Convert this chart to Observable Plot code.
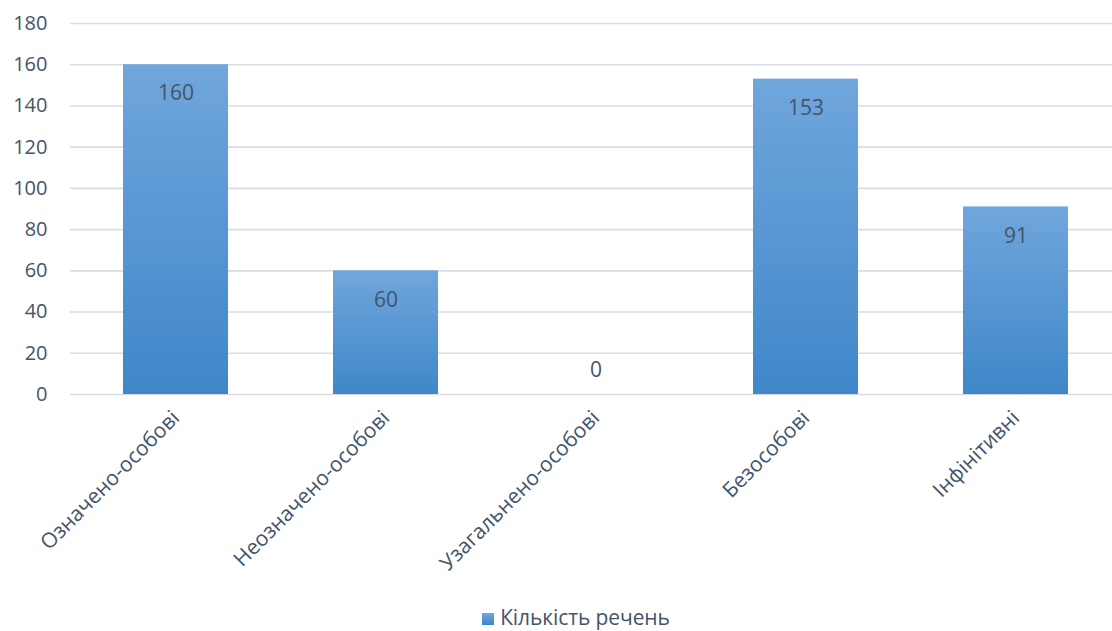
<!DOCTYPE html>
<html>
<head>
<meta charset="utf-8">
<script src="https://cdn.jsdelivr.net/npm/d3@7"></script>
<script src="https://cdn.jsdelivr.net/npm/@observablehq/plot@0.6"></script>
<style>
  html, body { margin: 0; padding: 0; background: #fff; }
  #chart { width: 1112px; height: 631px; position: relative; }
  #legend { position: absolute; left: 20px; top: 603px; width: 1112px; text-align: center;
    font-family: "Open Sans", sans-serif; font-size: 21px; line-height: 28px; color: #44546A; letter-spacing: -0.1px; }
  #legend .sw { display: inline-block; width: 12px; height: 12px; margin-right: 6px; vertical-align: 0px;
    background: linear-gradient(#6fa5db, #3f87c9); }
</style>
</head>
<body>
<div id="chart"></div>
<script>
const categories = ["Означено-особові", "Неозначено-особові", "Узагальнено-особові", "Безособові", "Інфінітивні"];
const values = [160, 60, 0, 153, 91];
const yTicks = [0, 20, 40, 60, 80, 100, 120, 140, 160, 180];
const seriesName = "Кількість речень";

const data = categories.map((c, i) => ({category: c, value: values[i]}));
const textColor = "#44546A";

const plot = Plot.plot({
  width: 1112,
  height: 595,
  marginTop: 23,
  marginBottom: 201,
  marginLeft: 70,
  marginRight: 0,
  style: {fontFamily: "'Open Sans', sans-serif", fontSize: "20px", color: textColor, background: "#fff"},
  x: {domain: categories, range: [70, 1120], paddingInner: 0.5, paddingOuter: 0.25, align: 0.5, label: null},
  y: {domain: [0, 180], ticks: yTicks, label: null},
  marks: [
    Plot.ruleY(yTicks, {stroke: "#d9dde3", strokeWidth: 1.6}),
    Plot.barY(data, {x: "category", y: "value", fill: "url(#barGrad)"}),
    Plot.text(data.filter(d => d.value > 0), {x: "category", y: "value", text: d => String(d.value), dy: 29, fill: textColor, fontSize: 21}),
    Plot.text(data.filter(d => d.value === 0), {x: "category", y: "value", text: d => String(d.value), dy: -24, fill: textColor, fontSize: 21}),
    Plot.axisY({ticks: yTicks, tickSize: 0, tickPadding: 23, fontSize: 20, fill: textColor, label: null}),
    Plot.axisX({tickSize: 0, tickRotate: -45, tickPadding: 20, fontSize: 21, fill: textColor, label: null})
  ]
});

const ns = "http://www.w3.org/2000/svg";
const defs = document.createElementNS(ns, "defs");
const grad = document.createElementNS(ns, "linearGradient");
grad.setAttribute("id", "barGrad");
grad.setAttribute("x1", "0"); grad.setAttribute("y1", "0");
grad.setAttribute("x2", "0"); grad.setAttribute("y2", "1");
[["0", "#70a6dc"], ["1", "#3f87c9"]].forEach(([o, c]) => {
  const s = document.createElementNS(ns, "stop");
  s.setAttribute("offset", o); s.setAttribute("stop-color", c);
  grad.appendChild(s);
});
defs.appendChild(grad);
plot.insertBefore(defs, plot.firstChild);

const chart = document.getElementById("chart");
chart.appendChild(plot);
const legend = document.createElement("div");
legend.id = "legend";
legend.innerHTML = '<span class="sw"></span>' + seriesName;
chart.appendChild(legend);
</script>
</body>
</html>
